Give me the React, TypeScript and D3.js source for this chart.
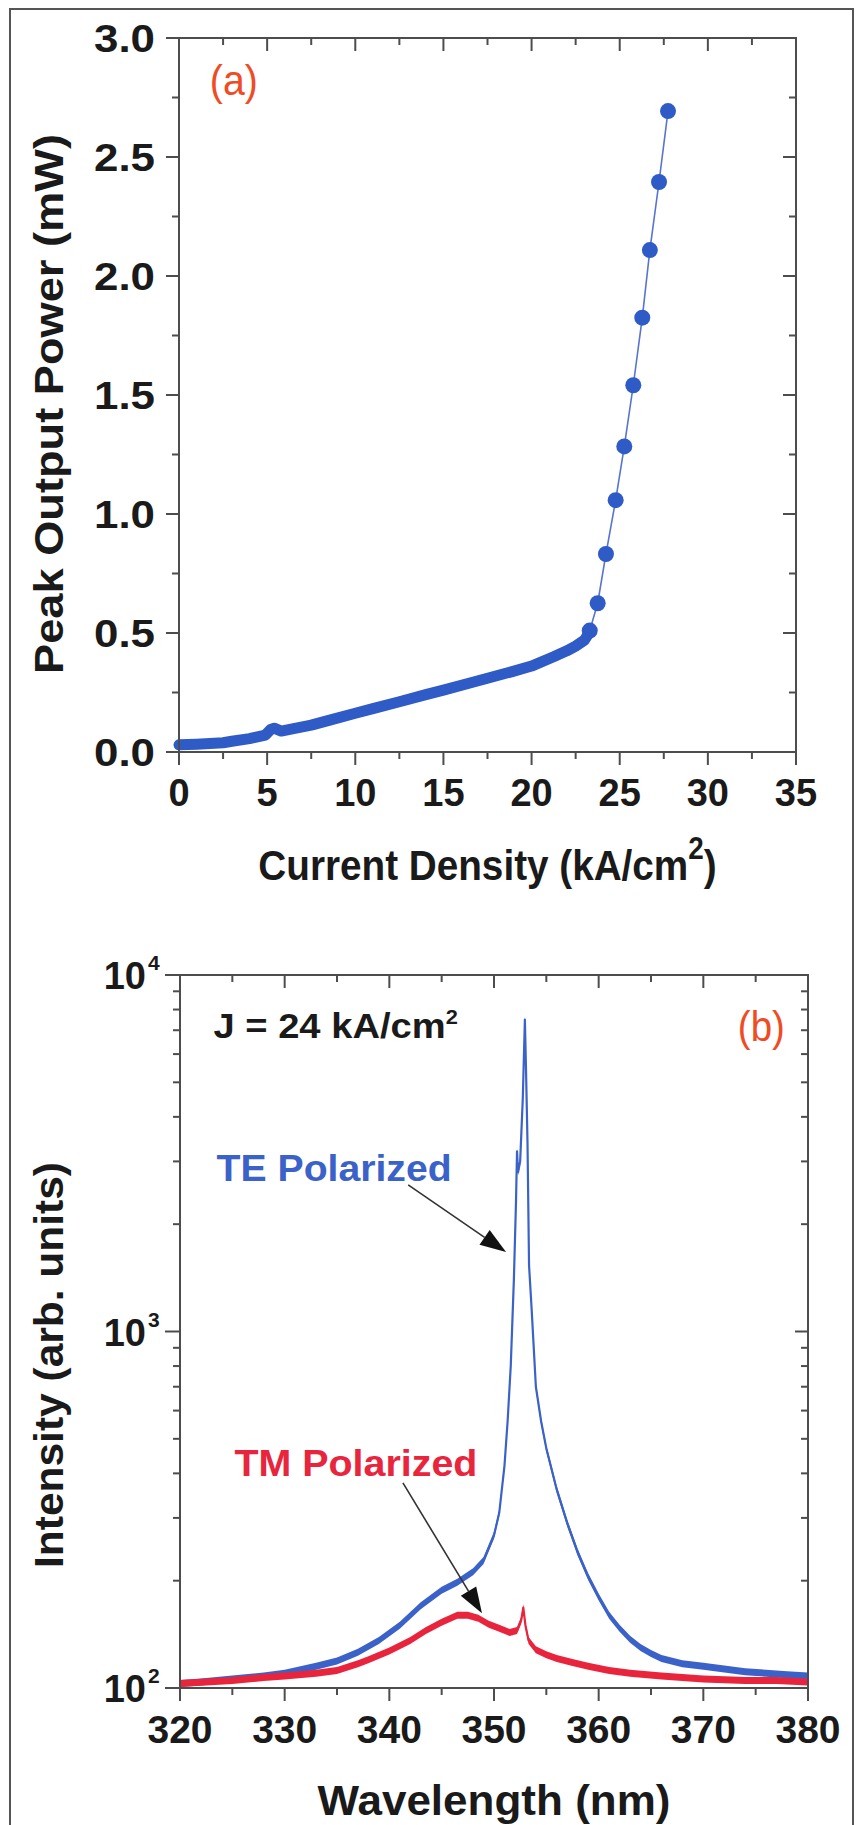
import React from 'react';
import * as d3 from 'd3';

// ---------- Panel (a): peak output power vs current density ----------
const xTickLabelsA = [0, 5, 10, 15, 20, 25, 30, 35];
const xMinorA = [2.5, 7.5, 12.5, 17.5, 22.5, 27.5, 32.5];
const yTickLabelsA = [0.0, 0.5, 1.0, 1.5, 2.0, 2.5, 3.0];
const yMinorA = [0.25, 0.75, 1.25, 1.75, 2.25, 2.75];

// dense (continuous) low-current measurement
const denseJ = [0, 1, 2, 2.5, 3, 4, 4.9, 5.2, 5.4, 5.8, 6.5, 7.5, 8.5, 10, 11, 12.5, 14, 15, 16.5, 17.5, 19, 20, 21.25, 22, 22.5, 23.0, 23.3];
const denseP = [0.03, 0.033, 0.037, 0.039, 0.045, 0.056, 0.071, 0.095, 0.1, 0.088, 0.098, 0.113, 0.133, 0.163, 0.182, 0.211, 0.241, 0.26, 0.29, 0.31, 0.34, 0.361, 0.4, 0.425, 0.445, 0.47, 0.505];
// sparse points above threshold
const dotJ = [23.3, 23.75, 24.22, 24.77, 25.26, 25.77, 26.28, 26.71, 27.23, 27.74];
const dotP = [0.51, 0.625, 0.832, 1.058, 1.284, 1.541, 1.825, 2.109, 2.395, 2.693];

// ---------- Panel (b): emission spectra ----------
const xTickLabelsB = [320, 330, 340, 350, 360, 370, 380];
const xMinorB = [325, 335, 345, 355, 365, 375];
const yTickDecades = [2, 3, 4];
const yMinorB = [200, 300, 400, 500, 600, 700, 800, 900, 2000, 3000, 4000, 5000, 6000, 7000, 8000, 9000];

const teWl = [320, 322, 325, 328, 330, 333, 335, 337, 339, 341, 343, 345, 346.5, 348, 349, 350, 350.5, 351, 351.3, 351.6, 351.9, 352.1, 352.2, 352.3, 352.5, 352.75, 352.95, 353.05, 353.2, 353.35, 353.6, 354, 354.5, 355, 356, 357, 358, 359, 360, 361, 362, 363, 364, 365, 366, 368, 370, 372, 374, 376, 378, 380];
const teI = [103, 104, 106, 108, 110, 115, 119, 126, 136, 150, 170, 188, 198, 212, 228, 268, 310, 420, 560, 800, 1400, 2300, 3200, 2800, 3000, 4500, 7500, 5600, 3400, 1530, 1150, 700, 560, 470, 360, 290, 240, 205, 180, 160, 147, 137, 130, 125, 121, 117, 115, 113, 111, 110, 109, 108];

const tmWl = [320, 325, 328, 330, 333, 335, 337, 338, 340, 342, 343.5, 345, 346.5, 347.5, 348.5, 349.5, 350.5, 351.5, 352.2, 352.6, 352.8, 353.0, 353.3, 354, 355, 356, 357.4, 359, 361, 363, 366, 370, 374, 377, 380];
const tmI = [103, 105, 107, 108, 110, 112, 117, 120, 127, 136, 145, 153, 160, 160, 157, 151, 147, 143, 145, 155, 168, 150, 136, 128, 124, 121, 118, 115, 112, 110, 108, 106, 105, 105, 104];

// annotation anchor points (data coordinates)
const teArrow = { from: [341.8, 2577], to: [351.15, 1671] };
const tmArrow = { from: [341.3, 376], to: [348.85, 162] };

const FONT = "'Liberation Sans', Arial, Helvetica, sans-serif";
const AXIS = '#4d4d4d';
const DOT = '#2f5bc6';
const TE = '#3b62c9';
const TM = '#e8253d';
const ORANGE = '#ef4b24';
const INK = '#1a1a1a';

function Arrow({ x1, y1, x2, y2 }: { x1: number; y1: number; x2: number; y2: number }) {
  const dx = x2 - x1, dy = y2 - y1;
  const len = Math.hypot(dx, dy);
  const ux = dx / len, uy = dy / len;
  const hl = 26, hw = 9;
  const bx = x2 - ux * hl, by = y2 - uy * hl;
  const p = `${x2},${y2} ${bx - uy * hw},${by + ux * hw} ${bx + uy * hw},${by - ux * hw}`;
  return (
    <g>
      <line x1={x1} y1={y1} x2={bx} y2={by} stroke="#333" strokeWidth={1.6} />
      <polygon points={p} fill="#111" />
    </g>
  );
}

export default function App() {
  const xA = d3.scaleLinear().domain([0, 35]).range([179, 796]);
  const yA = d3.scaleLinear().domain([0, 3]).range([752, 38]);
  const xB = d3.scaleLinear().domain([320, 380]).range([180, 808]);
  const yB = d3.scaleLog().domain([100, 10000]).range([1688, 975]);

  const lineA = d3.line<[number, number]>().x(d => xA(d[0])).y(d => yA(d[1]));
  const dense = denseJ.map((j, i) => [j, denseP[i]] as [number, number]);
  const dots = dotJ.map((j, i) => [j, dotP[i]] as [number, number]);

  const NOISE = 3.5; // visual half-thickness of the noisy spectra (px)
  const lineB = d3.line<[number, number]>().x(d => xB(d[0])).y(d => yB(d[1]));
  const bandB = d3.area<[number, number]>()
    .x(d => xB(d[0]))
    .y0(d => yB(d[1]) + NOISE)
    .y1(d => yB(d[1]) - NOISE);
  const te = teWl.map((w, i) => [w, teI[i]] as [number, number]);
  const tm = tmWl.map((w, i) => [w, tmI[i]] as [number, number]);

  const [aL, aR] = xA.range();
  const [aB, aT] = yA.range();
  const [bL, bR] = xB.range();
  const [bB, bT] = yB.range();

  const MAJ = 13, MIN = 7;

  const jx = xB(323.2), jy = yB(6650);

  return (
    <svg width={856} height={1825} style={{ position: 'absolute', left: 0, top: 0, background: '#fff' }}
      fontFamily={FONT}>
      <rect x={0} y={0} width={856} height={1825} fill="#fff" />
      <rect x={10} y={9} width={843} height={1840} fill="none" stroke="#555" strokeWidth={2} />

      {/* ================= Panel (a) ================= */}
      <g>
        <path d={lineA(dense.concat(dots)) || ''} fill="none" stroke="#5874cf" strokeWidth={1.6} />
        <path d={lineA(dense) || ''} fill="none" stroke={DOT} strokeWidth={11} strokeLinecap="round" strokeLinejoin="round" />
        {dots.map((d, i) => (
          <circle key={i} cx={xA(d[0])} cy={yA(d[1])} r={8} fill={DOT} />
        ))}

        <rect x={aL} y={aT} width={aR - aL} height={aB - aT} fill="none" stroke={AXIS} strokeWidth={2} />
        {xTickLabelsA.map(v => (
          <g key={'xa' + v}>
            <line x1={xA(v)} x2={xA(v)} y1={aB} y2={aB + MAJ} stroke={AXIS} strokeWidth={2} />
            <line x1={xA(v)} x2={xA(v)} y1={aT} y2={aT + MAJ} stroke={AXIS} strokeWidth={2} />
            <text x={xA(v)} y={806} textAnchor="middle" fontSize={38} fontWeight="bold" fill={INK}>{v}</text>
          </g>
        ))}
        {xMinorA.map(v => (
          <g key={'xam' + v}>
            <line x1={xA(v)} x2={xA(v)} y1={aB} y2={aB + MIN} stroke={AXIS} strokeWidth={2} />
            <line x1={xA(v)} x2={xA(v)} y1={aT} y2={aT + MIN} stroke={AXIS} strokeWidth={2} />
          </g>
        ))}
        {yTickLabelsA.map(v => (
          <g key={'ya' + v}>
            <line x1={aL - MAJ} x2={aL} y1={yA(v)} y2={yA(v)} stroke={AXIS} strokeWidth={2} />
            <line x1={aR - MAJ} x2={aR} y1={yA(v)} y2={yA(v)} stroke={AXIS} strokeWidth={2} />
            <text x={155} y={yA(v) + 14} textAnchor="end" fontSize={39} fontWeight="bold" fill={INK}
              textLength={61} lengthAdjust="spacingAndGlyphs">{d3.format('.1f')(v)}</text>
          </g>
        ))}
        {yMinorA.map(v => (
          <g key={'yam' + v}>
            <line x1={aL - MIN} x2={aL} y1={yA(v)} y2={yA(v)} stroke={AXIS} strokeWidth={2} />
            <line x1={aR - MIN} x2={aR} y1={yA(v)} y2={yA(v)} stroke={AXIS} strokeWidth={2} />
          </g>
        ))}

        <text transform={`translate(${(aL + aR) / 2}, 880) scale(0.9, 1)`} textAnchor="middle" fontSize={43}
          fontWeight="bold" fill={INK}>
          Current Density (kA/cm<tspan dy={-21} fontSize={31}>2</tspan><tspan dy={21}>)</tspan>
        </text>

        <text transform={`translate(63, 404) rotate(-90)`} textAnchor="middle" fontSize={41} fontWeight="bold" fill={INK}
          textLength={540} lengthAdjust="spacingAndGlyphs">
          Peak Output Power (mW)
        </text>
        <text x={xA(1.75)} y={yA(2.76)} fontSize={42} fill={ORANGE}
          textLength={48} lengthAdjust="spacingAndGlyphs">(a)</text>
      </g>

      {/* ================= Panel (b) ================= */}
      <g>
        <defs>
          <clipPath id="clipB">
            <rect x={bL} y={bT} width={bR - bL} height={bB - bT} />
          </clipPath>
        </defs>
        <g clipPath="url(#clipB)">
          <path d={bandB(te) || ''} fill={TE} stroke="none" />
          <path d={lineB(te) || ''} fill="none" stroke={TE} strokeWidth={2.2} strokeLinejoin="round" />
          <path d={bandB(tm) || ''} fill={TM} stroke="none" />
          <path d={lineB(tm) || ''} fill="none" stroke={TM} strokeWidth={2.2} strokeLinejoin="round" />
        </g>

        <rect x={bL} y={bT} width={bR - bL} height={bB - bT} fill="none" stroke={AXIS} strokeWidth={2} />
        {xTickLabelsB.map(v => (
          <g key={'xb' + v}>
            <line x1={xB(v)} x2={xB(v)} y1={bB} y2={bB + MAJ} stroke={AXIS} strokeWidth={2} />
            <line x1={xB(v)} x2={xB(v)} y1={bT} y2={bT + MAJ} stroke={AXIS} strokeWidth={2} />
            <text x={xB(v)} y={1743} textAnchor="middle" fontSize={39} fontWeight="bold" fill={INK}>{v}</text>
          </g>
        ))}
        {xMinorB.map(v => (
          <g key={'xbm' + v}>
            <line x1={xB(v)} x2={xB(v)} y1={bB} y2={bB + MIN} stroke={AXIS} strokeWidth={2} />
            <line x1={xB(v)} x2={xB(v)} y1={bT} y2={bT + MIN} stroke={AXIS} strokeWidth={2} />
          </g>
        ))}
        {yTickDecades.map(e => {
          const v = Math.pow(10, e);
          return (
            <g key={'yb' + e}>
              <line x1={bL - MAJ - 2} x2={bL} y1={yB(v)} y2={yB(v)} stroke={AXIS} strokeWidth={2} />
              <line x1={bR - MAJ} x2={bR} y1={yB(v)} y2={yB(v)} stroke={AXIS} strokeWidth={2} />
              <text x={146} y={yB(v) + 14} textAnchor="end" fontSize={38} fontWeight="bold" fill={INK}>10</text>
              <text x={148} y={yB(v) - 5} fontSize={21} fontWeight="bold" fill={INK}>{e}</text>
            </g>
          );
        })}
        {yMinorB.map(v => (
          <g key={'ybm' + v}>
            <line x1={bL - MIN} x2={bL} y1={yB(v)} y2={yB(v)} stroke={AXIS} strokeWidth={2} />
            <line x1={bR - MIN} x2={bR} y1={yB(v)} y2={yB(v)} stroke={AXIS} strokeWidth={2} />
          </g>
        ))}

        <text x={(bL + bR) / 2} y={1815} textAnchor="middle" fontSize={43} fontWeight="bold" fill={INK}
          textLength={353} lengthAdjust="spacingAndGlyphs">
          Wavelength (nm)
        </text>
        <text transform={`translate(63, 1365) rotate(-90)`} textAnchor="middle" fontSize={41} fontWeight="bold" fill={INK}
          textLength={406} lengthAdjust="spacingAndGlyphs">
          Intensity (arb. units)
        </text>

        <text transform={`translate(${jx}, ${jy}) scale(1.09, 1)`} fontSize={35} fontWeight="bold" fill={INK}>
          J = 24 kA/cm<tspan dy={-14} fontSize={20}>2</tspan>
        </text>
        <text x={xB(373.3)} y={yB(6550)} fontSize={42} fill={ORANGE}
          textLength={47} lengthAdjust="spacingAndGlyphs">(b)</text>
        <text x={xB(323.5)} y={yB(2650)} fontSize={37} fontWeight="bold" fill={TE}
          textLength={235} lengthAdjust="spacingAndGlyphs">TE Polarized</text>
        <text x={xB(325.2)} y={yB(393)} fontSize={37} fontWeight="bold" fill={TM}
          textLength={243} lengthAdjust="spacingAndGlyphs">TM Polarized</text>
        <Arrow x1={xB(teArrow.from[0])} y1={yB(teArrow.from[1])} x2={xB(teArrow.to[0])} y2={yB(teArrow.to[1])} />
        <Arrow x1={xB(tmArrow.from[0])} y1={yB(tmArrow.from[1])} x2={xB(tmArrow.to[0])} y2={yB(tmArrow.to[1])} />
      </g>
    </svg>
  );
}
